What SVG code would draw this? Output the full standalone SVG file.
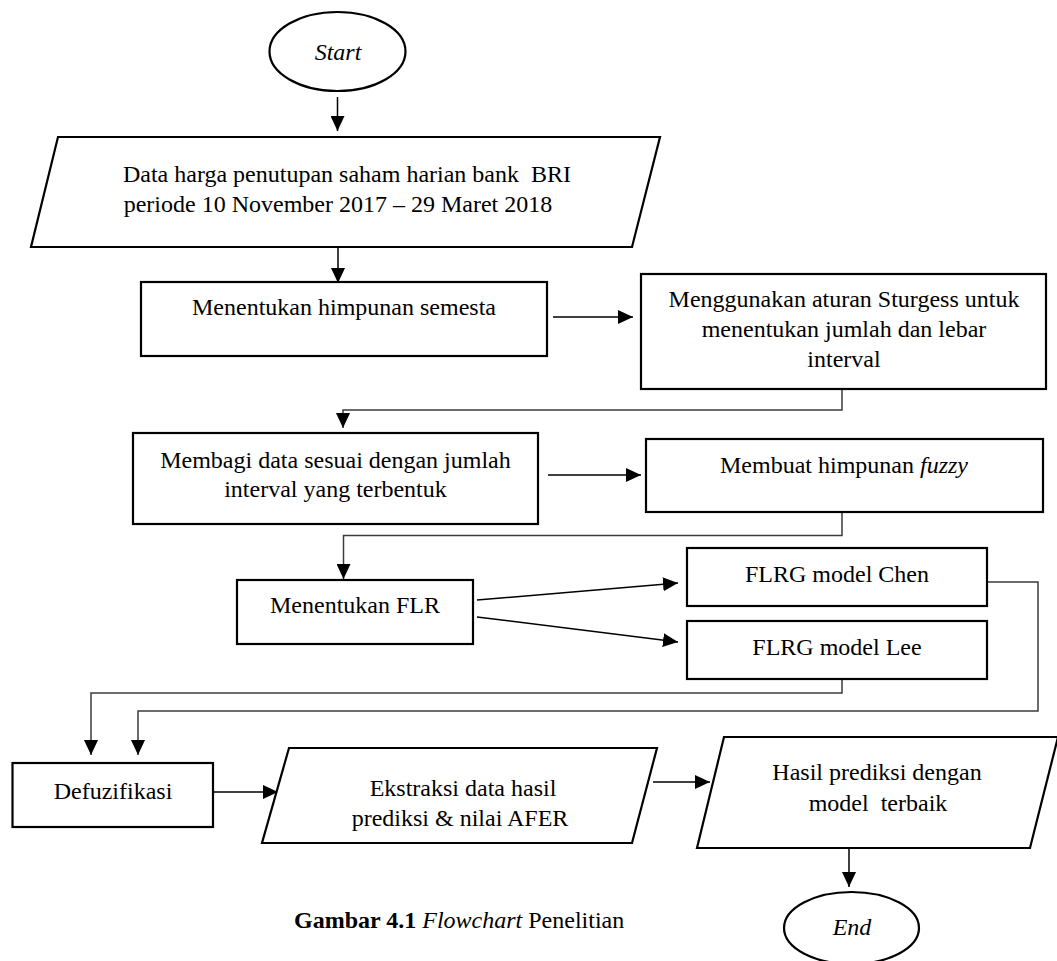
<svg xmlns="http://www.w3.org/2000/svg" width="1057" height="961" viewBox="0 0 1057 961">
<style>
.shape{fill:#fff;stroke:#000;stroke-width:2.2}
.t{font-family:"Liberation Serif","Times New Roman",serif;font-size:24px;fill:#000;text-anchor:middle}
.it{font-style:italic}
.arr{fill:none;stroke:#000;stroke-width:1.5}
.route{fill:none;stroke:#3c3c3c;stroke-width:1.5}
</style>
<defs>
<marker id="ah" markerUnits="userSpaceOnUse" markerWidth="16" markerHeight="14" refX="15" refY="7" orient="auto" viewBox="0 0 16 14">
<path d="M0,0 L15,7 L0,14 z" fill="#000"/>
</marker>
</defs>
<rect width="1057" height="961" fill="#fff"/>

<g id="connectors">
<line class="arr" x1="337.5" y1="97" x2="337.5" y2="131" marker-end="url(#ah)"/>
<line class="arr" x1="338" y1="247" x2="338" y2="283" marker-end="url(#ah)"/>
<line class="arr" x1="553" y1="317" x2="633" y2="317" marker-end="url(#ah)"/>
<path class="route" d="M842,389 V410 H343 V428" marker-end="url(#ah)"/>
<line class="arr" x1="548" y1="475" x2="641" y2="475" marker-end="url(#ah)"/>
<path class="route" d="M842,512 V535.5 H343.5 V579" marker-end="url(#ah)"/>
<line class="arr" x1="477" y1="600" x2="678" y2="583" marker-end="url(#ah)"/>
<line class="arr" x1="477" y1="617" x2="678" y2="642" marker-end="url(#ah)"/>
<path class="route" d="M842,679 V693 H91 V755" marker-end="url(#ah)"/>
<path class="route" d="M987,582 H1038 V711 H138 V755" marker-end="url(#ah)"/>
<line class="arr" x1="213" y1="792" x2="278" y2="792" marker-end="url(#ah)"/>
<line class="arr" x1="653" y1="782" x2="710" y2="782" marker-end="url(#ah)"/>
<line class="arr" x1="849" y1="848" x2="849" y2="887" marker-end="url(#ah)"/>
</g>

<g id="start">
<ellipse class="shape" cx="337.5" cy="51.5" rx="68" ry="39.5"/>
<text class="t it" x="338" y="59.5">Start</text>
</g>

<g id="data-input">
<polygon class="shape" points="58,137 660,137 632,247 31,247"/>
<text class="t" x="347" y="182" xml:space="preserve">Data harga penutupan saham harian bank  BRI</text>
<text class="t" x="338" y="212">periode 10 November 2017 – 29 Maret 2018</text>
</g>

<g id="himpunan-semesta">
<rect class="shape" x="141" y="282" width="406" height="74"/>
<text class="t" x="344" y="315">Menentukan himpunan semesta</text>
</g>

<g id="sturgess">
<rect class="shape" x="641" y="274" width="405" height="115"/>
<text class="t" x="844" y="307">Menggunakan aturan Sturgess untuk</text>
<text class="t" x="844" y="337">menentukan jumlah dan lebar</text>
<text class="t" x="844" y="367">interval</text>
</g>

<g id="membagi">
<rect class="shape" x="133" y="433" width="405" height="91"/>
<text class="t" x="335.5" y="468">Membagi data sesuai dengan jumlah</text>
<text class="t" x="335.5" y="497">interval yang terbentuk</text>
</g>

<g id="fuzzy">
<rect class="shape" x="646" y="439" width="397" height="73"/>
<text class="t" x="844" y="473">Membuat himpunan <tspan class="it">fuzzy</tspan></text>
</g>

<g id="flr">
<rect class="shape" x="237" y="580" width="236" height="64"/>
<text class="t" x="355" y="613">Menentukan FLR</text>
</g>

<g id="chen">
<rect class="shape" x="687" y="548" width="300" height="58"/>
<text class="t" x="837" y="582">FLRG model Chen</text>
</g>

<g id="lee">
<rect class="shape" x="687" y="621" width="300" height="58"/>
<text class="t" x="837" y="655">FLRG model Lee</text>
</g>

<g id="defuzifikasi">
<rect class="shape" x="12.5" y="763" width="200.5" height="64"/>
<text class="t" x="113" y="799">Defuzifikasi</text>
</g>

<g id="ekstraksi">
<polygon class="shape" points="289,748 657,748 632,843 262,843"/>
<text class="t" x="463" y="796">Ekstraksi data hasil</text>
<text class="t" x="460" y="826">prediksi &amp; nilai AFER</text>
</g>

<g id="hasil">
<polygon class="shape" points="724,737 1058,737 1030,848 697,848"/>
<text class="t" x="877" y="780">Hasil prediksi dengan</text>
<text class="t" x="878" y="811" xml:space="preserve">model  terbaik</text>
</g>

<g id="end">
<ellipse class="shape" cx="851.5" cy="928" rx="67.5" ry="36"/>
<text class="t it" x="852" y="935">End</text>
</g>

<g id="caption">
<text class="t" x="294" y="928" style="text-anchor:start"><tspan font-weight="bold">Gambar 4.1</tspan> <tspan class="it">Flowchart</tspan> Penelitian</text>
</g>
</svg>
